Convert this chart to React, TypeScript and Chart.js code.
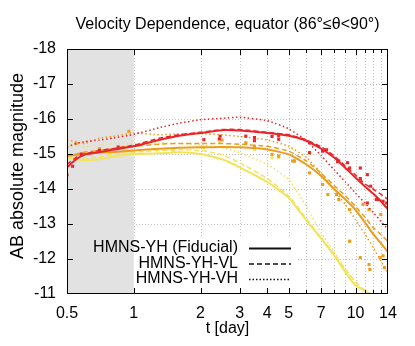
import React, { useEffect, useRef } from 'react';
import { Chart, registerables } from 'chart.js';
Chart.register(...registerables);

const FONT = '"Liberation Sans", Arial, Helvetica, sans-serif';

const T = [0.5, 0.55, 0.6, 0.7, 0.8, 1, 1.3, 1.6, 2, 2.5, 3, 4, 5, 6, 7, 8, 9, 10, 11, 12, 13, 14];

const redSolid = [-14.62, -14.85, -14.98, -15.05, -15.12, -15.22, -15.4, -15.52, -15.6, -15.68, -15.67, -15.6, -15.52, -15.38, -15.15, -14.9, -14.6, -14.32, -14.08, -13.87, -13.65, -13.42];
const redVL = [-14.7, -14.9, -15.0, -15.1, -15.15, -15.25, -15.45, -15.55, -15.62, -15.7, -15.7, -15.62, -15.55, -15.4, -15.2, -14.95, -14.65, -14.4, -14.15, -14.0, -13.85, -13.7];
const redVH = [-15.2, -15.3, -15.35, -15.4, -15.45, -15.56, -15.75, -15.88, -15.98, -16.02, -16.05, -15.95, -15.72, -15.38, -14.95, -14.55, -14.2, -13.88, -13.6, -13.33, -13.08, -12.85];

const orangeSolid = [-14.95, -14.97, -15.0, -15.05, -15.05, -15.1, -15.15, -15.18, -15.19, -15.2, -15.19, -15.13, -14.99, -14.7, -14.37, -14.0, -13.7, -13.4, -13.05, -12.72, -12.45, -12.2];
const orangeVL = [-14.95, -15.0, -15.05, -15.1, -15.15, -15.22, -15.28, -15.3, -15.3, -15.3, -15.28, -15.22, -15.08, -14.8, -14.45, -14.1, -13.8, -13.5, -13.2, -12.9, -12.7, -12.5];
const orangeVH = [-15.4, -15.35, -15.3, -15.45, -15.5, -15.6, -15.55, -15.58, -15.58, -15.55, -15.5, -15.4, -15.22, -14.9, -14.45, -13.98, -13.55, -13.12, -12.72, -12.33, -11.95, -11.6];

const yellowSolid = [-14.9, -14.85, -14.82, -14.85, -14.92, -15.0, -15.02, -15.05, -15.0, -14.85, -14.62, -14.2, -13.75, -13.1, -12.58, -12.1, -11.62, -11.24, -11.1, -10.95, -10.7, -10.5];
const yellowVL = [-14.95, -14.9, -14.88, -14.92, -15.0, -15.05, -15.1, -15.12, -15.1, -14.98, -14.75, -14.3, -13.8, -13.15, -12.6, -12.15, -11.7, -11.35, -11.1, -10.9, -10.7, -10.5];
const yellowVH = [-15.2, -15.25, -15.2, -15.25, -15.3, -15.3, -15.32, -15.3, -15.27, -15.18, -15.04, -14.7, -14.27, -13.5, -12.75, -12.2, -11.7, -11.3, -11.0, -10.8, -10.6, -10.4];

const redPtsT = [0.5, 0.53, 0.58, 0.7, 0.85, 2.07, 2.43, 2.45, 3.2, 3.5, 3.5, 4.2, 4.5, 4.5, 6.2, 6.2, 7.1, 7.4, 8.3, 8.4, 9.2, 9.4, 10.5, 10.5, 11.3, 11.3, 11.7, 12.4, 12.6, 13.3, 13.8];
const redPtsM = [-14.4, -14.65, -15.0, -15.1, -15.2, -15.41, -15.43, -15.51, -15.51, -15.47, -15.38, -15.5, -15.52, -15.42, -15.32, -15.04, -15.08, -15.12, -14.78, -14.8, -14.75, -14.6, -14.6, -14.3, -14.41, -13.6, -14.08, -13.7, -13.7, -13.65, -13.6];

const orangePtsT = [0.55, 0.7, 0.95, 2.5, 3.2, 3.5, 4.2, 4.5, 5.2, 5.3, 6.2, 6.2, 7.1, 7.5, 8.2, 8.4, 9.4, 9.4, 10.5, 10.8, 11.5, 11.5, 11.6, 12.9, 13.0, 13.3, 13.5];
const orangePtsM = [-15.3, -15.15, -15.65, -15.4, -15.32, -15.22, -14.99, -14.94, -14.8, -14.8, -15.03, -14.46, -14.13, -13.84, -13.84, -13.7, -13.41, -12.51, -12.04, -13.56, -13.41, -11.84, -11.7, -12.04, -13.27, -12.09, -11.75];

const yellowPtsT = [0.6, 0.9, 1.5, 2.07, 2.43, 3.2, 3.5, 4.2, 4.5, 5.3, 9.4];
const yellowPtsM = [-15.05, -15.2, -15.1, -15.18, -15.34, -15.3, -15.13, -14.89, -14.9, -14.8, -12.5];

const xTickVals = [0.5, 1, 2, 3, 4, 5, 6, 7, 8, 9, 10, 11, 12, 13, 14];
const xTickLabels = [0.5, 1, 2, 3, 4, 5, 7, 10, 14];

const legendNames = ['HMNS-YH (Fiducial)', 'HMNS-YH-VL', 'HMNS-YH-VH'];
const titleText = 'Velocity Dependence, equator (86°≤θ<90°)';
const xTitle = 't [day]';
const yTitle = 'AB absolute magnitude';

const RED = '#e8262a';
const ORANGE = '#ec9d1e';
const YELLOW = '#f3e35a';

const pts = (t: number[], m: number[]) => t.map((v, i) => ({ x: v, y: m[i] }));

const lineDs = (m: number[], color: string, style: 'solid' | 'dash' | 'dot') => ({
  type: 'line' as const,
  data: pts(T, m),
  borderColor: color,
  backgroundColor: color,
  borderWidth: style === 'solid' ? 2 : 1.5,
  borderDash: style === 'solid' ? [] : style === 'dash' ? [5, 3] : [1.5, 2.5],
  pointRadius: 0,
  tension: 0.15,
  fill: false,
});

const scatterDs = (t: number[], m: number[], color: string) => ({
  type: 'scatter' as const,
  data: pts(t, m),
  borderColor: color,
  backgroundColor: color,
  pointStyle: 'rect' as const,
  pointRadius: 2.2,
  borderWidth: 0,
  showLine: false,
});

const decor = {
  id: 'decor',
  beforeDatasetsDraw(chart: any) {
    const { ctx, chartArea, scales } = chart;
    const { left, right, top, bottom } = chartArea;
    const x = scales.x, y = scales.y;
    ctx.save();
    ctx.strokeStyle = '#c4c4c4';
    ctx.lineWidth = 1;
    ctx.setLineDash([1, 2]);
    xTickVals.forEach((v) => {
      if (v === 0.5 || v === 14) return;
      const px = Math.round(x.getPixelForValue(v)) + 0.5;
      ctx.beginPath();
      ctx.moveTo(px, top);
      ctx.lineTo(px, bottom);
      ctx.stroke();
    });
    for (let v = -17; v <= -12; v++) {
      const py = Math.round(y.getPixelForValue(v)) + 0.5;
      ctx.beginPath();
      ctx.moveTo(left, py);
      ctx.lineTo(right, py);
      ctx.stroke();
    }
    ctx.setLineDash([]);
    // legend white box
    ctx.fillStyle = '#ffffff';
    ctx.fillRect(left, 236, 296 - left, bottom - 236);
    // gray early-time band
    const x1 = x.getPixelForValue(1);
    ctx.fillStyle = '#e2e2e2';
    ctx.fillRect(left, top, x1 - left, bottom - top);
    ctx.restore();
  },
  afterDatasetsDraw(chart: any) {
    const { ctx, chartArea, scales } = chart;
    const { left, right, top, bottom } = chartArea;
    const x = scales.x, y = scales.y;
    ctx.save();
    ctx.strokeStyle = '#000';
    ctx.lineWidth = 1;
    ctx.strokeRect(left + 0.5, top + 0.5, right - left - 1, bottom - top - 1);
    ctx.beginPath();
    xTickVals.forEach((v) => {
      if (v === 0.5 || v === 14) return;
      const px = Math.round(x.getPixelForValue(v)) + 0.5;
      const len = xTickLabels.includes(v) ? 6 : 4;
      ctx.moveTo(px, top);
      ctx.lineTo(px, top + len);
      ctx.moveTo(px, bottom);
      ctx.lineTo(px, bottom - len);
    });
    for (let v = -17; v <= -12; v++) {
      const py = Math.round(y.getPixelForValue(v)) + 0.5;
      ctx.moveTo(left, py);
      ctx.lineTo(left + 6, py);
      ctx.moveTo(right, py);
      ctx.lineTo(right - 6, py);
    }
    ctx.stroke();

    // legend
    ctx.fillStyle = '#000';
    ctx.font = `16px ${FONT}`;
    ctx.textAlign = 'right';
    ctx.textBaseline = 'middle';
    const rows = [248, 263.5, 279];
    const dashes = [[], [5, 3], [1.5, 2]];
    const widths = [2, 1.5, 1.5];
    legendNames.forEach((n, i) => {
      ctx.fillText(n, 238, rows[i]);
      ctx.beginPath();
      ctx.setLineDash(dashes[i]);
      ctx.lineWidth = widths[i];
      ctx.strokeStyle = '#111';
      ctx.moveTo(249, rows[i] + 0.5);
      ctx.lineTo(291, rows[i] + 0.5);
      ctx.stroke();
    });
    ctx.setLineDash([]);

    // title
    ctx.textAlign = 'center';
    ctx.font = `16px ${FONT}`;
    ctx.fillText(titleText, (left + right) / 2, 25);
    // x title
    ctx.fillText(xTitle, (left + right) / 2, 329);
    // y title
    ctx.font = `18px ${FONT}`;
    ctx.translate(18, 166);
    ctx.rotate(-Math.PI / 2);
    ctx.fillText(yTitle, 0, 0);
    ctx.restore();
  },
};

export default function App() {
  const ref = useRef<HTMLCanvasElement>(null);
  useEffect(() => {
    document.body.style.margin = '0';
    const canvas = ref.current!;
    const chart = new Chart(canvas, {
      type: 'line',
      data: {
        datasets: [
          lineDs(redSolid, RED, 'solid'),
          lineDs(redVL, RED, 'dash'),
          lineDs(redVH, RED, 'dot'),
          scatterDs(redPtsT, redPtsM, RED),
          lineDs(orangeSolid, ORANGE, 'solid'),
          lineDs(orangeVL, ORANGE, 'dash'),
          lineDs(orangeVH, ORANGE, 'dot'),
          scatterDs(orangePtsT, orangePtsM, ORANGE),
          lineDs(yellowSolid, YELLOW, 'solid'),
          lineDs(yellowVL, YELLOW, 'dash'),
          lineDs(yellowVH, YELLOW, 'dot'),
          scatterDs(yellowPtsT, yellowPtsM, YELLOW),
        ] as any,
      },
      options: {
        responsive: false,
        animation: false,
        layout: { padding: { top: 49, right: 27, left: 0, bottom: 0 } },
        plugins: { legend: { display: false }, tooltip: { enabled: false }, title: { display: false } },
        scales: {
          x: {
            type: 'logarithmic',
            min: 0.5,
            max: 14,
            afterBuildTicks: (s: any) => {
              s.ticks = xTickVals.map((v) => ({ value: v }));
            },
            afterFit: (s: any) => {
              s.height = 52;
            },
            ticks: {
              autoSkip: false,
              maxRotation: 0,
              padding: 10,
              color: '#000',
              font: { size: 16, family: FONT },
              callback: (v: any) => (xTickLabels.includes(Number(v)) ? String(v) : ''),
            },
            grid: { display: false, drawTicks: false },
            border: { display: false },
          },
          y: {
            type: 'linear',
            reverse: true,
            min: -18,
            max: -11,
            afterFit: (s: any) => {
              s.width = 67;
            },
            ticks: {
              stepSize: 1,
              padding: 11,
              color: '#000',
              font: { size: 16, family: FONT },
              callback: (v: any) => String(v),
            },
            grid: { display: false, drawTicks: false },
            border: { display: false },
          },
        },
      },
      plugins: [decor],
    });
    return () => chart.destroy();
  }, []);
  return (
    <div style={{ width: 415, height: 346 }}>
      <canvas ref={ref} width={415} height={346} style={{ display: 'block', width: 415, height: 346 }} />
    </div>
  );
}
